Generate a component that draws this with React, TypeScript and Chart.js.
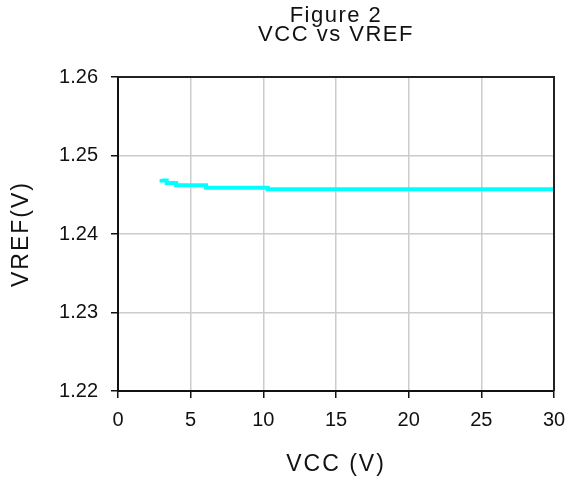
import React, { useEffect, useRef } from "react";
import { Chart, registerables } from "chart.js";

Chart.register(...registerables);

const vccValues = [3.0, 3.35, 4.0, 6.06, 10.3, 18.0, 30];
const vrefValues = [1.247, 1.2468, 1.2465, 1.2462, 1.2459, 1.2457, 1.2457];
const titleLines = ["Figure 2", "VCC vs VREF"];
const xTitle = "VCC (V)";
const yTitle = "VREF(V)";

const FONT = "'Liberation Sans', Arial, sans-serif";

const textPlugin = {
  id: "textAndFrame",
  afterDraw(chart: any) {
    const ctx = chart.ctx;
    const a = chart.chartArea;
    const cx = (a.left + a.right) / 2;
    ctx.save();
    // frame on top and right
    ctx.strokeStyle = "#222";
    ctx.lineWidth = 2;
    ctx.beginPath();
    ctx.moveTo(a.left, a.top);
    ctx.lineTo(a.right, a.top);
    ctx.lineTo(a.right, a.bottom);
    ctx.stroke();

    ctx.fillStyle = "#111";
    ctx.textAlign = "center";
    ctx.textBaseline = "middle";
    (ctx as any).letterSpacing = "1.5px";
    ctx.font = `22px ${FONT}`;
    ctx.fillText(titleLines[0], cx, 16);
    ctx.fillText(titleLines[1], cx, 35);

    (ctx as any).letterSpacing = "2px";
    ctx.font = `23px ${FONT}`;
    ctx.fillText(xTitle, cx, 465);

    ctx.translate(22, (a.top + a.bottom) / 2);
    ctx.rotate(-Math.PI / 2);
    ctx.fillText(yTitle, 0, 0);
    ctx.restore();
  },
};

export default function App() {
  const ref = useRef<HTMLCanvasElement | null>(null);
  useEffect(() => {
    document.body.style.margin = "0";
    const canvas = ref.current!;
    const chart = new Chart(canvas, {
      type: "line",
      data: {
        datasets: [
          {
            data: vccValues.map((x, i) => ({ x, y: vrefValues[i] })),
            borderColor: "#00FFFF",
            backgroundColor: "#00FFFF",
            borderWidth: 4,
            pointRadius: 0,
            stepped: "after",
            fill: false,
          },
        ],
      },
      options: {
        animation: false,
        responsive: false,
        maintainAspectRatio: false,
        layout: { padding: { top: 77, right: 13, left: 0, bottom: 0 } },
        plugins: { legend: { display: false }, tooltip: { enabled: false }, title: { display: false } },
        scales: {
          x: {
            type: "linear",
            min: 0,
            max: 30,
            ticks: { stepSize: 5, color: "#111", font: { family: FONT, size: 20 }, padding: 10 },
            grid: { color: "#cccccc", lineWidth: 1.5, tickLength: 7, tickColor: "#111" },
            border: { color: "#111", width: 2 },
            afterFit: (s: any) => { s.height = 92; s.paddingRight = 0; s.paddingLeft = 0; },
          },
          y: {
            type: "linear",
            min: 1.22,
            max: 1.26,
            ticks: {
              stepSize: 0.01,
              color: "#111",
              font: { family: FONT, size: 20 },
              padding: 13,
              callback: (v: any) => Number(v).toFixed(2),
            },
            grid: { color: "#cccccc", lineWidth: 1.5, tickLength: 7, tickColor: "#111" },
            border: { color: "#111", width: 2 },
            afterFit: (s: any) => { s.width = 118; s.paddingTop = 0; s.paddingBottom = 0; },
          },
        },
      },
      plugins: [textPlugin],
    });
    return () => chart.destroy();
  }, []);
  return (
    <div style={{ width: 567, height: 483, background: "#fff" }}>
      <canvas ref={ref} width={567} height={483} style={{ width: 567, height: 483, display: "block" }} />
    </div>
  );
}
